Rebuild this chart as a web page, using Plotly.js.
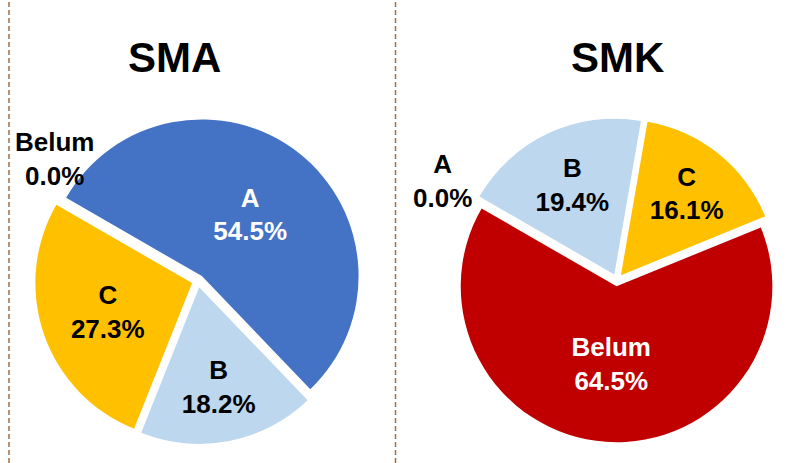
<!DOCTYPE html>
<html>
<head>
<meta charset="utf-8">
<script src="https://cdn.plot.ly/plotly-3.0.1.min.js"></script>
<style>html,body{margin:0;padding:0;background:#fff;}#chart{width:791px;height:463px;}</style>
</head>
<body>
<div id="chart"></div>
<script>
// Data
const categories = ['A', 'B', 'C', 'Belum'];
const smaValues = [54.5, 18.2, 27.3, 0.0];
const smkValues = [0.0, 19.4, 16.1, 64.5];
const groupTitles = ['SMA', 'SMK'];
const sliceColors = ['#4472C4', '#BDD7EE', '#FFC000', '#C00000'];
const textColors = ['#FFFFFF', '#000000', '#000000', '#FFFFFF'];

const FONT = 'Liberation Sans, Arial, sans-serif';
const LABEL_SIZE = 26;

function pieTrace(values, domain) {
  return {
    type: 'pie',
    labels: categories,
    values: values,
    sort: false,
    direction: 'clockwise',
    rotation: -60,
    pull: 0.04,
    domain: domain,
    marker: { colors: sliceColors, line: { width: 0 } },
    texttemplate: '%{label}<br>%{percent:.1%}',
    // zero slices are labelled with an annotation beside the pie (as in the reference)
    textposition: values.map(v => v === 0 ? 'none' : 'inside'),
    insidetextorientation: 'horizontal',
    textfont: { family: FONT, size: LABEL_SIZE, weight: 700, color: textColors },
    hoverinfo: 'label+percent',
    showlegend: false
  };
}

const data = [
  pieTrace(smaValues, { x: [0.0442, 0.4564], y: [0.041, 0.745] }),
  pieTrace(smkValues, { x: [0.575, 0.985], y: [0.045, 0.745] })
];

// positions (paper coords) of the labels for zero-valued slices, per pie
const zeroLabelPos = [{ x: 54 / 791, y: 1 - 159 / 463 }, { x: 442 / 791, y: 1 - 181 / 463 }];
const seriesList = [smaValues, smkValues];

const annotations = [
  { text: groupTitles[0], x: 174 / 791, y: 1 - 58 / 463 },
  { text: groupTitles[1], x: 617 / 791, y: 1 - 58 / 463 }
].map(a => Object.assign(a, {
  xref: 'paper', yref: 'paper', xanchor: 'center', yanchor: 'middle', showarrow: false,
  font: { family: FONT, size: 42, weight: 700, color: '#000' }
}));

seriesList.forEach((vals, s) => {
  vals.forEach((v, i) => {
    if (v === 0) {
      annotations.push({
        text: categories[i] + '<br>' + v.toFixed(1) + '%',
        x: zeroLabelPos[s].x, y: zeroLabelPos[s].y,
        xref: 'paper', yref: 'paper', xanchor: 'center', yanchor: 'middle', showarrow: false,
        font: { family: FONT, size: LABEL_SIZE, weight: 700, color: '#000' }
      });
    }
  });
});

const layout = {
  width: 791, height: 463,
  margin: { l: 0, r: 0, t: 0, b: 0 },
  paper_bgcolor: '#FFFFFF',
  showlegend: false,
  font: { family: FONT },
  annotations: annotations,
  shapes: [
    { type: 'line', xref: 'paper', yref: 'paper', x0: 9/791, x1: 9/791, y0: 0, y1: 1,
      line: { color: '#A86C3F', width: 1.5, dash: '5px,3px' } },
    { type: 'line', xref: 'paper', yref: 'paper', x0: 395.5/791, x1: 395.5/791, y0: 0, y1: 1,
      line: { color: '#A86C3F', width: 1.5, dash: '5px,3px' } }
  ]
};

Plotly.newPlot('chart', data, layout, { staticPlot: true });
</script>
</body>
</html>
